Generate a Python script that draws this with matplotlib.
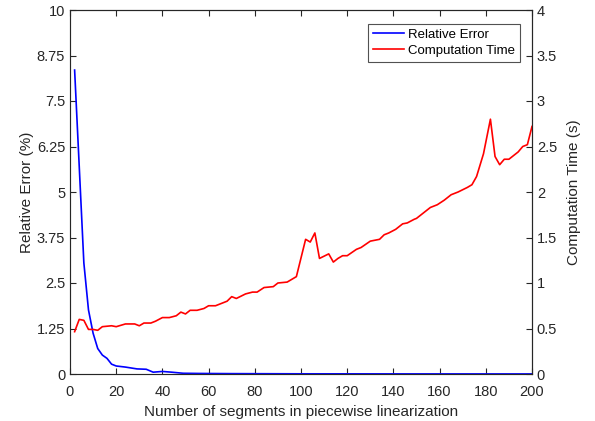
import numpy as np
from matplotlib import pyplot as plt

plt.rcParams['font.family'] = ['Liberation Sans', 'DejaVu Sans']

# relative error (%), left axis
err_x = [2, 4, 6, 8, 10, 12, 14, 16, 18, 20, 24, 29, 33, 36, 40, 44, 49, 56, 70, 100, 150, 200]
err_y = [8.35, 5.7, 3.05, 1.76, 1.12, 0.70, 0.52, 0.43, 0.27, 0.22, 0.19, 0.14, 0.13, 0.05, 0.07, 0.05, 0.02, 0.015, 0.01, 0.005, 0.003, 0.002]

# computation time (s), right axis
t_x = [2, 4, 6, 8, 10, 12, 14, 18, 20, 24, 28, 30, 32, 35, 37, 40, 43, 46, 48, 50,
       52, 55, 58, 60, 63, 66, 68, 70, 72, 76, 79, 81, 84, 88, 90, 94, 96, 98,
       102, 104, 106, 108, 112, 114, 116, 118, 120, 124, 126, 130, 134, 136, 138,
       141, 144, 146, 149, 150, 153, 156, 159, 162, 165, 168, 172, 174, 176, 179,
       182, 184, 186, 188, 190, 194, 196, 198, 200]
t_y = [0.465, 0.60, 0.59, 0.49, 0.49, 0.48, 0.52, 0.53, 0.52, 0.55, 0.55, 0.53, 0.56, 0.56, 0.58, 0.62,
       0.62, 0.64, 0.68, 0.66, 0.70, 0.70, 0.72, 0.75, 0.75, 0.78, 0.80, 0.85, 0.83, 0.88, 0.90,
       0.90, 0.95, 0.96, 1.00, 1.01, 1.04, 1.07, 1.48, 1.45, 1.55, 1.27, 1.32, 1.23, 1.27, 1.30,
       1.30, 1.37, 1.39, 1.46, 1.48, 1.53, 1.55, 1.59, 1.65, 1.66, 1.70, 1.71, 1.77, 1.83, 1.86,
       1.91, 1.97, 2.00, 2.05, 2.08, 2.17, 2.42, 2.80, 2.39, 2.30, 2.36, 2.36, 2.44, 2.50, 2.52, 2.72]

fig = plt.figure(figsize=(5.95, 4.21), dpi=100)
ax = fig.add_axes([70/595, 1-374/421, 462/595, 364/421])
ax2 = ax.twinx()

l1, = ax.plot(err_x, err_y, color='#0000ff', lw=1.2, label='Relative Error')
l2, = ax2.plot(t_x, t_y, color='#ff0000', lw=1.2, label='Computation Time')

ax.set_xlim(0, 200)
ax.set_ylim(0, 10)
ax2.set_ylim(0, 4)
ax.set_xticks(np.arange(0, 201, 20))
ax.set_yticks([0, 1.25, 2.5, 3.75, 5, 6.25, 7.5, 8.75, 10])
ax.set_yticklabels(['0', '1.25', '2.5', '3.75', '5', '6.25', '7.5', '8.75', '10'])
ax2.set_yticks(np.arange(0, 4.01, 0.5))
ax2.set_yticklabels(['0', '0.5', '1', '1.5', '2', '2.5', '3', '3.5', '4'])

for a in (ax, ax2):
    a.tick_params(direction='in', length=4, width=0.8, labelsize=10.5, colors='#262626')
    for s in a.spines.values():
        s.set_color('#262626')
        s.set_linewidth(0.8)
ax.spines['left'].set_color('#808080')
ax.spines['bottom'].set_color('#808080')
ax.tick_params(top=True)
ax.tick_params(axis='x', pad=8)

ax.set_xlabel('Number of segments in piecewise linearization', fontsize=11, color='#262626', labelpad=4)
ax.set_ylabel('Relative Error (%)', fontsize=11, color='#262626', labelpad=2)
ax2.set_ylabel('Computation Time (s)', fontsize=11, color='#262626', labelpad=7)

leg = ax.legend(handles=[l1, l2], loc='upper right', bbox_to_anchor=(520/595, 1-24/421),
                bbox_transform=fig.transFigure, fontsize=9.5, frameon=True, fancybox=False,
                handlelength=2.4, borderpad=0.35, labelspacing=0.3, handletextpad=0.3,
                borderaxespad=0)
leg.get_frame().set_edgecolor('#262626')
leg.get_frame().set_linewidth(0.8)

fig.savefig('out.png', dpi=100)
